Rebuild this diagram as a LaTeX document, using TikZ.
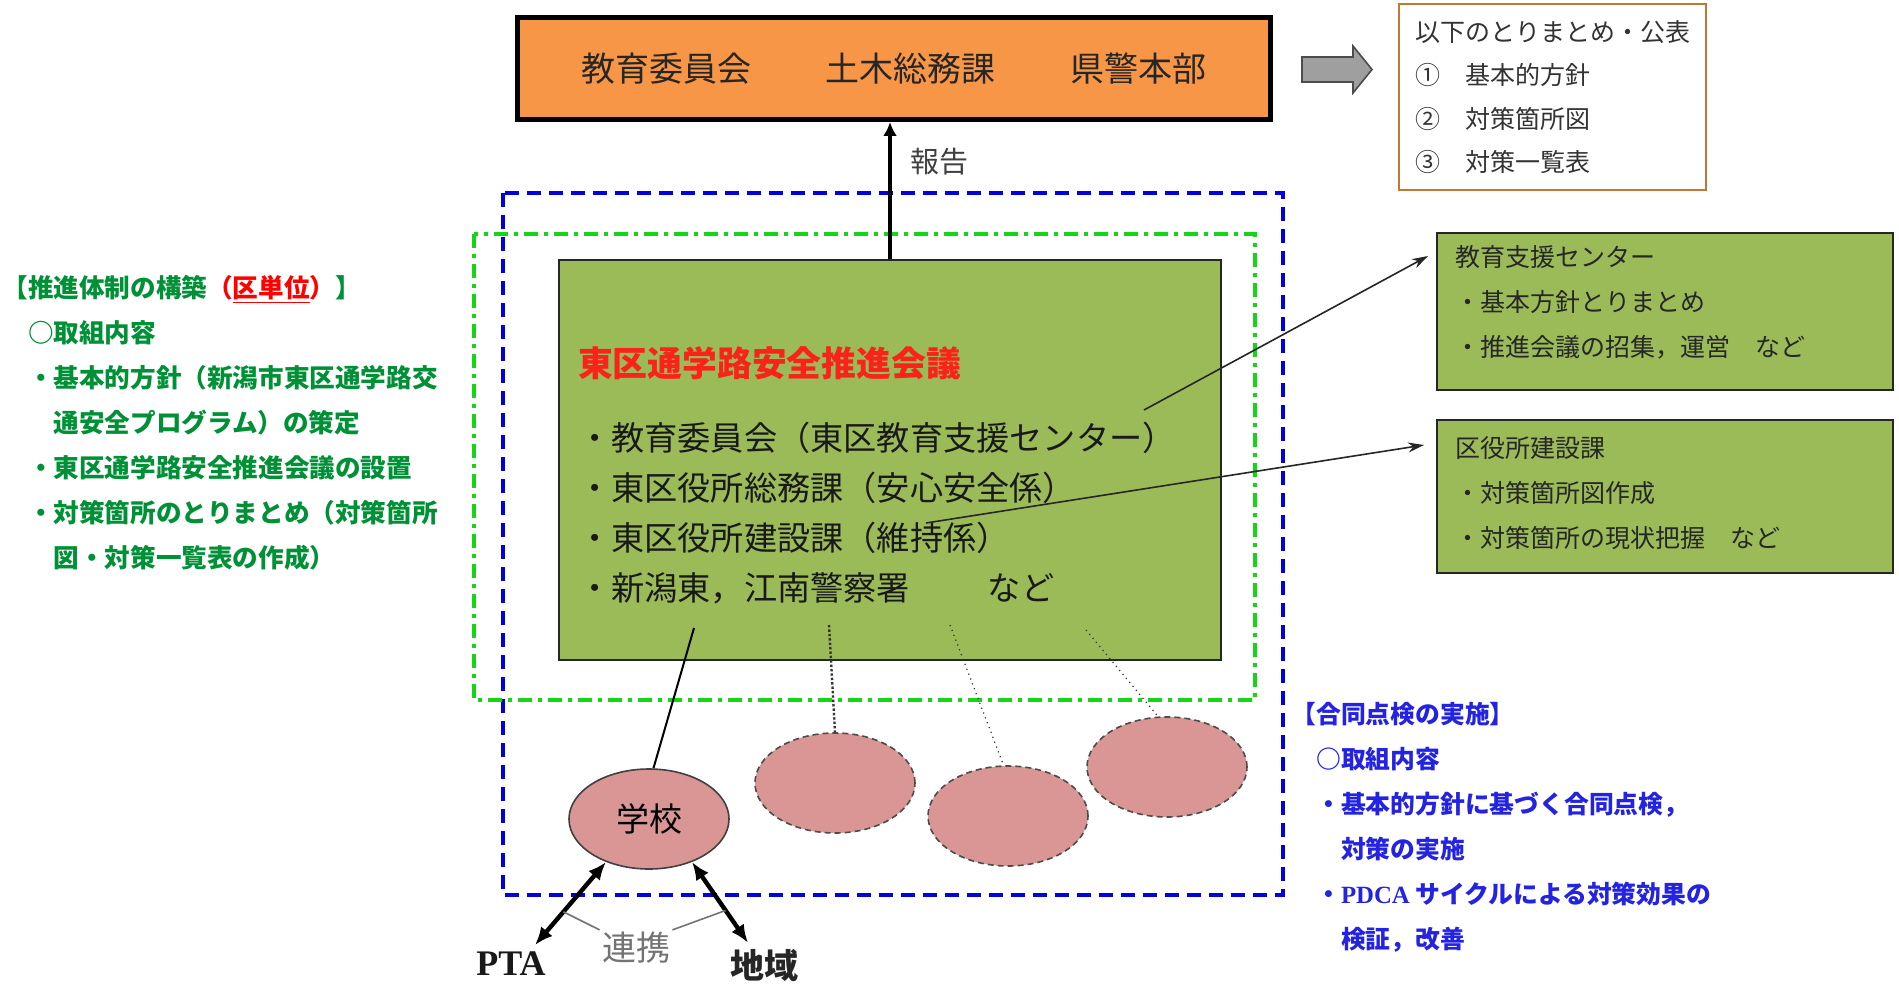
\documentclass[tikz,border=0pt]{standalone}
\usepackage{fontspec}
\setmainfont{Liberation Serif}
\newfontfamily\jp{Noto Sans CJK JP}
\usetikzlibrary{arrows.meta,shapes.geometric}
\setlength{\parindent}{0pt}

\definecolor{boardorange}{HTML}{F79646}
\definecolor{councilgreen}{HTML}{9BBB59}
\definecolor{venuepink}{HTML}{D99694}
\definecolor{sumframe}{RGB}{196,118,52}
\definecolor{plangreen}{RGB}{0,145,55}
\definecolor{checkblue}{RGB}{35,35,225}
\definecolor{framegreen}{RGB}{20,215,20}
\definecolor{frameblue}{RGB}{0,0,225}
\definecolor{titlered}{RGB}{250,35,25}

\begin{document}
\begin{tikzpicture}[x=0.5pt, y=-0.5pt,
  topbox/.style={draw=black, line width=2.5pt, fill=boardorange, minimum width=376.5pt,
    minimum height=51pt, inner sep=0pt, font=\jp\fontsize{17}{20}\selectfont, text=black!85},
  sumbox/.style={draw=sumframe, line width=1pt, fill=white, text width=137.5pt, inner xsep=8pt,
    inner ysep=0pt, minimum height=93pt, align=left, font=\jp\fontsize{12.5}{21.7}\selectfont, text=black!80},
  rolebox/.style={draw=black!85, line width=1pt, fill=councilgreen, text width=210pt, inner xsep=9pt,
    inner ysep=0pt, align=left, font=\jp\fontsize{12.5}{22.5}\selectfont, text=black!85},
  councilbox/.style={draw=black!85, line width=1pt, fill=councilgreen, text width=312pt, inner xsep=9.5pt,
    inner ysep=0pt, minimum height=200pt, align=left, font=\jp\fontsize{16.6}{25}\selectfont, text=black!90},
  venue/.style={ellipse, fill=venuepink, minimum width=80pt, minimum height=50pt, inner sep=0pt},
  venuedash/.style={draw=black!70, densely dashed, line width=0.8pt},
  plannote/.style={anchor=west, inner sep=0pt, align=left, text=plangreen,
    font=\jp\bfseries\fontsize{12.8}{22.5}\selectfont},
  checknote/.style={anchor=west, inner sep=0pt, align=left, text=checkblue,
    font=\jp\bfseries\fontsize{12.4}{22.5}\selectfont},
  reportarrow/.style={line width=2.2pt, -{Latex[length=7pt,width=7pt]}},
  rolearrow/.style={line width=0.8pt, black!85, -{Stealth[length=8pt,width=5pt]}},
  linkarrow/.style={line width=2.2pt, {Latex[length=9pt,width=7.5pt]}-{Latex[length=9pt,width=7.5pt]}},
  dotlink/.style={black!80, dotted, line width=0.6pt}]

  \useasboundingbox (0,0) rectangle (1899,984);
  \path[fill=white] (0,0) rectangle (1899,984);

  \draw[frameblue, line width=2pt, dash pattern=on 7pt off 4pt] (503,193) rectangle (1283,895);
  \draw[framegreen, line width=1.6pt, dash pattern=on 7pt off 3pt on 2pt off 3pt] (474,234) rectangle (1255,700);

  \node[topbox] (board) at (894,68.5) {教育委員会\hspace{37.5pt}土木総務課\hspace{37.5pt}県警本部};

  \draw[fill=gray!75, draw=black!70, line width=0.8pt]
    (1302,57) -- (1353,57) -- (1353,46) -- (1372,69.5) -- (1353,93) -- (1353,82) -- (1302,82) -- cycle;

  \node[sumbox] (summary) at (1552.5,97) {以下のとりまとめ・公表\\①　基本的方針\\②　対策箇所図\\③　対策一覧表};

  \node[councilbox] (council) at (890,460) {%
    {\color{titlered}\bfseries\fontsize{17.4}{25}\selectfont\rule{0pt}{30pt}東区通学路安全推進会議}\\[12pt]
    ・教育委員会（東区教育支援センター）\\
    ・東区役所総務課（安心安全係）\\
    ・東区役所建設課（維持係）\\
    ・新潟東，江南警察署\hspace{39pt}など};

  \node[rolebox, minimum height=78.5pt] (edu) at (1665,311.5)
    {教育支援センター\\・基本方針とりまとめ\\・推進会議の招集，運営　など\rule[-10.5pt]{0pt}{10.5pt}};
  \node[rolebox, minimum height=76.5pt] (build) at (1665,496.5)
    {区役所建設課\\・対策箇所図作成\\・対策箇所の現状把握　など\rule[-4.5pt]{0pt}{4.5pt}};

  \node[venue, draw=black!75, line width=0.8pt, font=\jp\fontsize{16.5}{18}\selectfont] (school) at (649,819) {学校};
  \node[venue, venuedash] (spot1) at (835,783) {};
  \node[venue, venuedash] (spot2) at (1008,816) {};
  \node[venue, venuedash] (spot3) at (1167,767) {};

  \node[font=\bfseries\fontsize{18}{20}\selectfont, text=black!90] (pta) at (511,964) {PTA};
  \node[font=\jp\bfseries\fontsize{17}{20}\selectfont, text=black!85] (area) at (764,966) {地域};
  \node[inner sep=1pt, font=\jp\fontsize{17}{20}\selectfont, text=black!55] (renkei) at (636,948) {連携};

  \node[plannote] (plan) at (2,422.5) {%
    【推進体制の構築{\color{red}（\underline{区単位}）}】\\
    　○取組内容\\
    　・基本的方針（新潟市東区通学路交\\
    　　通安全プログラム）の策定\\
    　・東区通学路安全推進会議の設置\\
    　・対策箇所のとりまとめ（対策箇所\\
    　　図・対策一覧表の作成）};

  \node[checknote] (check) at (1291,827.5) {%
    【合同点検の実施】\\
    　○取組内容\\
    　・基本的方針に基づく合同点検，\\
    　　対策の実施\\
    　・{\rmfamily PDCA} サイクルによる対策効果の\\
    　　検証，改善};

  \coordinate (edufrom) at (1144,410);
  \coordinate (buildfrom) at (926,523);
  \coordinate (schoolfrom) at (694,628);
  \coordinate (spotfrom1) at (829,625);
  \coordinate (spotfrom2) at (950,625);
  \coordinate (spotfrom3) at (1086,630);

  \draw[reportarrow] (council.north) -- node[pos=0.71, right=9pt, inner sep=0pt, text=black!75,
    font=\jp\fontsize{14.5}{16}\selectfont] (report) {報告} (council.north |- board.south);

  \draw[rolearrow] (edufrom) -- ([shift={(-4pt,-12pt)}]edu.north west);
  \draw[rolearrow] (buildfrom) -- ([shift={(-6pt,-13pt)}]build.north west);

  \draw[line width=1pt] (schoolfrom) -- (school.85);
  \draw[dotlink, line width=1.2pt, densely dotted] (spotfrom1) -- (spot1.north);
  \draw[dotlink] (spotfrom2) -- (spot2.95);
  \draw[dotlink] (spotfrom3) -- (spot3.100);

  \draw[linkarrow] (school.225) -- coordinate[pos=0.6] (ptamid) ([xshift=12pt]pta.north);
  \draw[linkarrow] (school.-45) -- coordinate[pos=0.6] (areamid) ([xshift=-8pt]area.north);
  \draw[black!55, line width=0.8pt] (renkei.north west) -- (ptamid);
  \draw[black!55, line width=0.8pt] (renkei.north east) -- (areamid);

\end{tikzpicture}
\end{document}
